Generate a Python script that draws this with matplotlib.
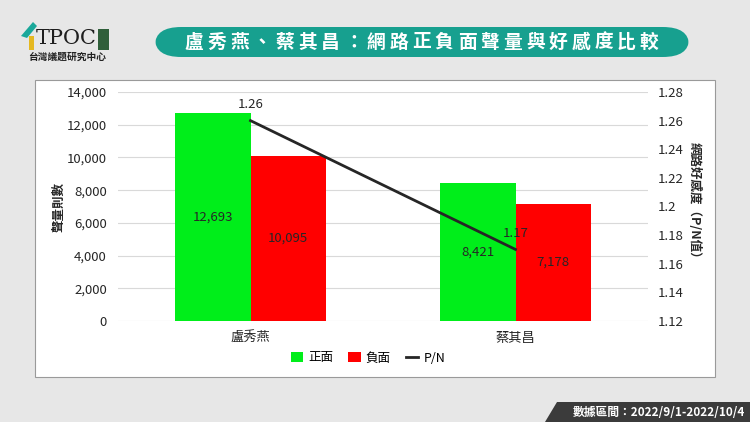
import matplotlib.pyplot as plt
from matplotlib.patches import FancyBboxPatch, Rectangle, Polygon
import numpy as np

plt.rcParams['font.family'] = ['Noto Sans CJK TC', 'DejaVu Sans']

# data
candidates = ["盧秀燕", "蔡其昌"]
positive = [12693, 8421]
negative = [10095, 7178]
pn_ratio = [1.26, 1.17]
left_ticks = [0, 2000, 4000, 6000, 8000, 10000, 12000, 14000]
right_ticks = [1.12, 1.14, 1.16, 1.18, 1.2, 1.22, 1.24, 1.26, 1.28]
title = "盧秀燕、蔡其昌：網路正負面聲量與好感度比較"

fig = plt.figure(figsize=(7.5, 4.22), dpi=100)
fig.patch.set_facecolor("#e7e7e7")
W, H = 750, 422

def fx(px):
    return px / W

def fy(py):
    return 1 - py / H

# white chart panel
fig.patches.append(Rectangle((fx(35), fy(377)), fx(715) - fx(35), fy(80) - fy(377),
                             transform=fig.transFigure, facecolor="white",
                             edgecolor="#9a9a9a", linewidth=0.8, zorder=-10))

# title banner, letters spread out like the original
fig.patches.append(FancyBboxPatch((fx(155), fy(57)), fx(689) - fx(155), fy(27) - fy(57),
                                  boxstyle="round,pad=0,rounding_size=0.035",
                                  transform=fig.transFigure, facecolor="#17a08f",
                                  edgecolor="none", mutation_aspect=H / W * 2.2, zorder=-5))
step = (649 - 194) / (len(title) - 1)
for i, ch in enumerate(title):
    fig.text(fx(194 + i * step), fy(42), ch, color="white", fontsize=13.5,
             fontweight="bold", ha="center", va="center")

# logo
fig.patches.append(Polygon([(fx(21), fy(36)), (fx(33), fy(22)), (fx(37), fy(26)), (fx(27), fy(38))],
                           closed=True, transform=fig.transFigure, facecolor="#1aa89a", edgecolor="none"))
fig.patches.append(Rectangle((fx(29), fy(50)), fx(5), fy(36) - fy(50),
                             transform=fig.transFigure, facecolor="#e5b820", edgecolor="none"))
fig.text(fx(36), fy(39), "TPOC", fontsize=15, family="DejaVu Serif", color="#1e1e1e",
         ha="left", va="center")
fig.patches.append(Rectangle((fx(98), fy(50)), fx(11), fy(29) - fy(50),
                             transform=fig.transFigure, facecolor="#2f5f3a", edgecolor="none"))
fig.text(fx(67), fy(57), "台灣議題研究中心", fontsize=7, fontweight="bold", color="#222222",
         ha="center", va="center")

# footer banner
fig.patches.append(Polygon([(fx(545), fy(422)), (fx(557), fy(402)), (fx(750), fy(402)), (fx(750), fy(422))],
                           closed=True, transform=fig.transFigure, facecolor="#3b3b3b", edgecolor="none"))
fig.text(fx(745), fy(412), "數據區間：2022/9/1-2022/10/4", color="white", fontsize=8.5,
         fontweight="bold", ha="right", va="center")

# main axes
ax = fig.add_axes([fx(118), fy(321), fx(648) - fx(118), fy(92) - fy(321)])
ax.set_facecolor("none")
x = np.arange(len(candidates))
bw = 0.285
b1 = ax.bar(x - bw / 2, positive, bw, color="#00ee1a", label="正面", zorder=2)
b2 = ax.bar(x + bw / 2, negative, bw, color="#ff0000", label="負面", zorder=2)
ax.set_xlim(-0.5, 1.5)
ax.set_ylim(0, 14000)
ax.set_yticks(left_ticks)
ax.set_yticklabels([f"{v:,}" for v in left_ticks])
ax.set_xticks(x)
ax.set_xticklabels(candidates)
ax.grid(axis="y", color="#d9d9d9", linewidth=0.8, zorder=0)
ax.set_axisbelow(True)
for s in ax.spines.values():
    s.set_visible(False)
ax.tick_params(axis="both", length=0, labelsize=9.5, colors="#262626")
ax.tick_params(axis="x", pad=8)
ax.tick_params(axis="y", pad=8)
ax.set_ylabel("聲量則數", fontsize=9, fontweight="bold", color="#262626")
ax.yaxis.set_label_coords(-0.1, 0.5)

for bars, vals in ((b1, positive), (b2, negative)):
    for r, v in zip(bars, vals):
        ax.text(r.get_x() + r.get_width() / 2, v / 2, f"{v:,}", ha="center", va="center",
                fontsize=9.5, color="#262626", zorder=5)

ax2 = ax.twinx()
ln, = ax2.plot(x, pn_ratio, color="#262626", linewidth=2, label="P/N", zorder=4)
ax2.set_ylim(1.12, 1.28)
ax2.set_yticks(right_ticks)
ax2.set_yticklabels([f"{v:g}" for v in right_ticks])
for s in ax2.spines.values():
    s.set_visible(False)
ax2.tick_params(axis="y", length=0, labelsize=9.5, colors="#262626", pad=7)
ax2.set_ylabel("網路好感度（P/N值）", fontsize=9, fontweight="bold", color="#262626", rotation=-90)
ax2.yaxis.set_label_coords(1.099, 0.515)
for xi, v in zip(x, pn_ratio):
    ax2.annotate(f"{v:g}", (xi, v), xytext=(0, 7), textcoords="offset points",
                 ha="center", va="bottom", fontsize=9.5, color="#262626")

handles = [b1, b2, ln]
fig.legend(handles, ["正面", "負面", "P/N"], loc="center", bbox_to_anchor=(fx(368), fy(358)),
           ncol=3, frameon=False, fontsize=9, handlelength=1.0, handleheight=0.9,
           columnspacing=1.2, handletextpad=0.4)

fig.savefig("out.png", dpi=100, facecolor=fig.get_facecolor())
